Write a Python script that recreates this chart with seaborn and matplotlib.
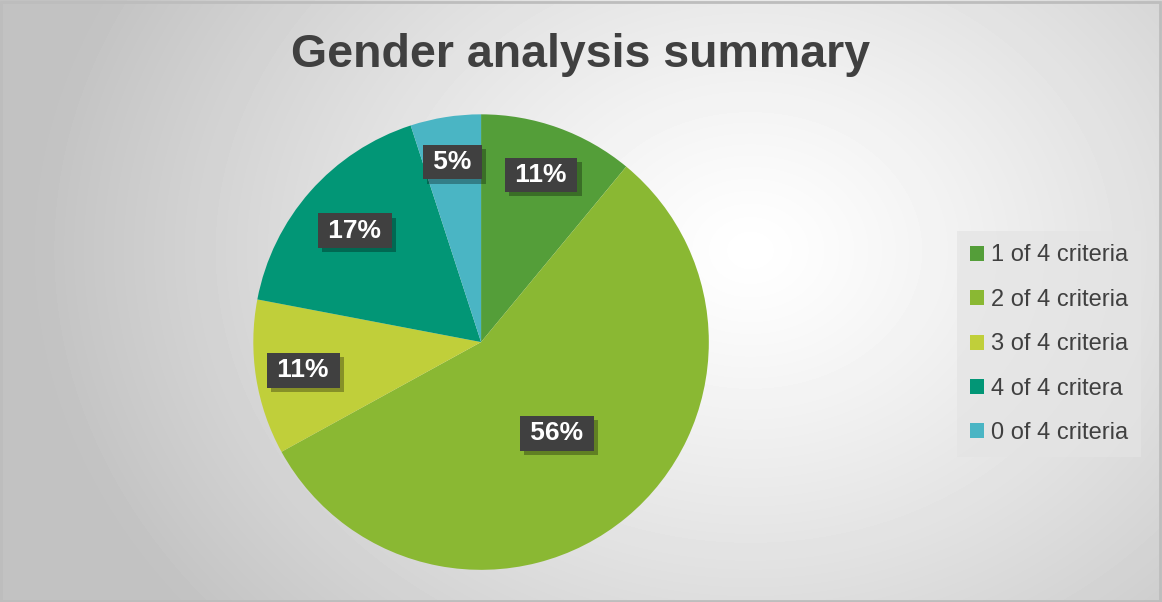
import numpy as np
import matplotlib.pyplot as plt
import matplotlib.patheffects as pe
from matplotlib.patches import Rectangle
import seaborn as sns

categories = ['1 of 4 criteria', '2 of 4 criteria', '3 of 4 criteria', '4 of 4 critera', '0 of 4 criteria']
shares = [11, 56, 11, 17, 5]
pct_labels = ['11%', '56%', '11%', '17%', '5%']
colors = ['#549E39', '#8AB833', '#C0CF3A', '#029676', '#4AB5C4']

sns.set_theme(style='white')
plt.rcParams['font.family'] = ['Liberation Sans', 'DejaVu Sans']

fig = plt.figure(figsize=(11.62, 6.02), dpi=100)

# radial grey background like the office chart style
bg = fig.add_axes([0, 0, 1, 1])
yy, xx = np.mgrid[0:602, 0:1162]
d = np.sqrt(((xx - 750) / 720.0) ** 2 + ((yy - 250) / 580.0) ** 2)
shade = 1.0 - 0.24 * np.clip(d, 0, 1) ** 1.2
bg.imshow(shade, cmap='gray', vmin=0, vmax=1, extent=[0, 1, 0, 1], aspect='auto',
          origin='upper', interpolation='bilinear')
bg.add_patch(Rectangle((0.001, 0.002), 0.997, 0.994, transform=bg.transAxes,
                       fill=False, edgecolor='#bdbdbd', linewidth=2))
bg.set_axis_off()

ax = fig.add_axes([0.218, 0.053, 0.392, 0.7575])
wedges, _ = ax.pie(shares, colors=sns.color_palette(colors), startangle=90,
                   counterclock=False, radius=1,
                   wedgeprops=dict(linewidth=0))
ax.set_xlim(-1, 1)
ax.set_ylim(-1, 1)
ax.set_aspect('equal')

# Excel places labels at slightly different radii
label_r = [0.78, 0.52, 0.79, 0.74, 0.80]
shadow = [pe.withSimplePatchShadow(offset=(3, -3), shadow_rgbFace='black', alpha=0.3)]
for w, lab, r in zip(wedges, pct_labels, label_r):
    ang = np.deg2rad((w.theta1 + w.theta2) / 2)
    ax.text(r * np.cos(ang), r * np.sin(ang), '\u2009' + lab + '\u2009', ha='center', va='center',
            color='white', fontsize=19, fontweight='bold',
            bbox=dict(boxstyle='square,pad=0.2', facecolor='#404040',
                      edgecolor='none', path_effects=shadow))

fig.text(0.5, 0.908, 'Gender analysis summary', ha='center', va='center',
         fontsize=33.5, fontweight='bold', color='#404040')

leg = fig.legend(wedges, categories, loc='center left', bbox_to_anchor=(0.8236, 0.428),
                 fontsize=17, frameon=True, facecolor='#e4e4e4', edgecolor='none',
                 framealpha=0.7, fancybox=False, handlelength=0.6, handleheight=0.6,
                 handletextpad=0.3, labelspacing=0.95, borderpad=0.55, borderaxespad=0)
for t in leg.get_texts():
    t.set_color('#404040')

fig.savefig('out.png', dpi=100)
